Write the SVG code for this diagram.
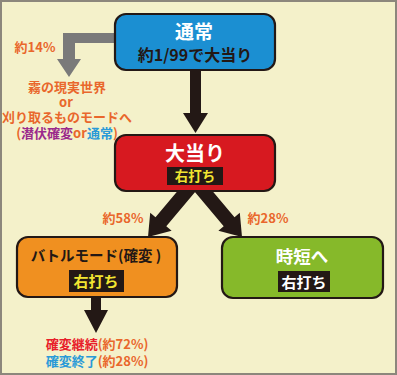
<svg xmlns="http://www.w3.org/2000/svg" width="397" height="375" viewBox="0 0 397 375">
<style>
text{font-family:"Noto Sans CJK JP","Noto Sans",sans-serif;font-weight:bold;text-anchor:middle}
.box{stroke:#231815;stroke-width:2.2}
.lbl{fill:#e9672c;font-size:13px}
.w{fill:#ffffff}
.k{fill:#231815}
.y{fill:#f2e531}
.tag{fill:#231815}
</style>
<rect x="1" y="1" width="395" height="373" fill="#f4f1ca" stroke="#8c877c" stroke-width="2"/>
<g id="connectors">
<polygon points="115,33 63,33 63,59 57,59 69,77 81,59 75,59 75,43 115,43" fill="#7a7a7a"/>
<polygon points="190,68 201,68 201,113 208,113 195.5,133 183,113 190,113" fill="#231815"/>
<polygon points="201.4,184.5 166.3,226.2 171.6,230.7 148,237 150.2,212.7 155.5,217.2 190.6,175.5" fill="#231815"/>
<polygon points="188.6,184.5 223.7,226.2 218.4,230.7 242,237 239.8,212.7 234.5,217.2 199.4,175.5" fill="#231815"/>
<polygon points="91,295 101,295 101,310 108,310 96,333 84,310 91,310" fill="#231815"/>
</g>
<g id="label-14">
<text class="lbl" x="35" y="52">約14%</text>
<text class="lbl" x="67" y="92">霧の現実世界</text>
<text class="lbl" x="66" y="107">or</text>
<text class="lbl" x="67" y="122">刈り取るものモードへ</text>
<text class="lbl" x="67" y="138">(<tspan fill="#9b2a8c">潜伏確変</tspan>or<tspan fill="#2a9ad8">通常</tspan>)</text>
</g>
<g id="node-normal">
<rect class="box" x="115" y="14" width="160" height="56" rx="11" fill="#1b8fd2"/>
<text class="w" x="194" y="39" font-size="19">通常</text>
<text class="k" x="195" y="61" font-size="16">約1/99で大当り</text>
</g>
<g id="node-jackpot">
<rect class="box" x="115" y="135" width="160" height="56" rx="11" fill="#d71920"/>
<text class="w" x="195" y="161" font-size="20">大当り</text>
<rect class="tag" x="167" y="167" width="56" height="18"/>
<text class="y" x="195" y="181" font-size="13.5">右打ち</text>
</g>
<g id="labels-split">
<text class="lbl" x="123" y="223">約58%</text>
<text class="lbl" x="268" y="223">約28%</text>
</g>
<g id="node-battle">
<rect class="box" x="17" y="237" width="160" height="60" rx="11" fill="#f09020"/>
<text class="k" x="96" y="261" font-size="14.5" font-weight="500">バトルモード(確変 )</text>
<rect class="tag" x="69" y="270" width="55" height="22"/>
<text class="y" x="96" y="287" font-size="15">右打ち</text>
</g>
<g id="node-jitan">
<rect class="box" x="222" y="237" width="161" height="61" rx="11" fill="#86b92a"/>
<text class="w" x="302" y="263" font-size="17.5">時短へ</text>
<rect class="tag" x="278" y="271" width="52" height="21"/>
<text class="w" x="304" y="288" font-size="15">右打ち</text>
</g>
<g id="label-result">
<text class="lbl" x="97" y="349"><tspan fill="#e8202a">確変継続</tspan>(約72%)</text>
<text class="lbl" x="97" y="366"><tspan fill="#2a9ad8">確変終了</tspan>(約28%)</text>
</g>
</svg>
